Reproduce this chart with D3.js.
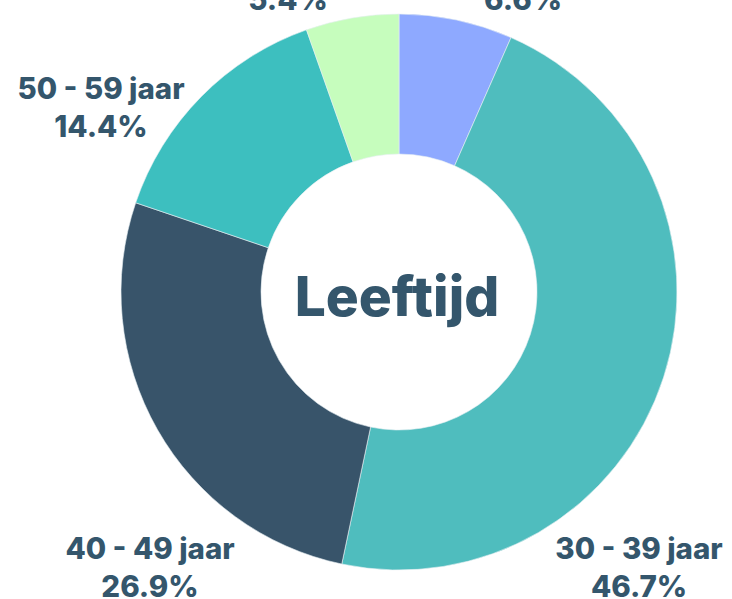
<!DOCTYPE html>
<html>
<head>
<meta charset="utf-8">
<script src="https://cdn.jsdelivr.net/npm/d3@7"></script>
<style>
  html, body { margin: 0; padding: 0; background: #fff; overflow: hidden; }
  text { font-family: Inter, "Open Sans", sans-serif; font-weight: 800; fill: #34566c; }
</style>
</head>
<body>
<div id="chart-container"></div>
<script>
// slices, clockwise from 12 o'clock
const categories = ['20 - 29 jaar', '30 - 39 jaar', '40 - 49 jaar', '50 - 59 jaar', '60+ jaar'];
const percentages = [6.6, 46.7, 26.9, 14.4, 5.4];
const colors = ['#8ea9ff', '#4fbdbe', '#38546a', '#3dbfbf', '#c6fdbd'];
const centerLabel = 'Leeftijd';

const width = 732;
const height = 599;
const cx = 399, cy = 292;
const outerR = 278, innerR = 138;

// where each label sits, relative to the centre (baseline of the % line)
const labelOffsets = [[124, -282], [240, 305], [-249, 305], [-298, -155], [-111, -282]];

const svg = d3.select("#chart-container")
  .append("svg")
    .attr("width", width)
    .attr("height", height);

const g = svg.append("g")
    .attr("transform", "translate(" + cx + "," + cy + ")");

const pie = d3.pie().sort(null).value(d => d.value);
const arc = d3.arc().innerRadius(innerR).outerRadius(outerR);

const data = categories.map((c, i) => ({ name: c, value: percentages[i], color: colors[i], off: labelOffsets[i] }));

g.selectAll(".slice")
  .data(pie(data))
  .enter()
  .append("path")
    .attr("class", "slice")
    .attr("d", arc)
    .attr("fill", d => d.data.color)
    .attr("stroke", "#e8f0f4")
    .attr("stroke-width", 0.6);

// labels
const labels = g.selectAll(".label")
  .data(data)
  .enter()
  .append("text")
    .attr("class", "label")
    .attr("text-anchor", "middle")
    .attr("font-size", 29.5);

labels.append("tspan")
    .attr("x", d => d.off[0])
    .attr("y", d => d.off[1] - 38)
    .text(d => d.name);

labels.append("tspan")
    .attr("x", d => d.off[0])
    .attr("y", d => d.off[1])
    .text(d => d.value.toFixed(1) + "%");

// centre title
g.append("text")
    .attr("text-anchor", "middle")
    .attr("x", -2)
    .attr("y", 24)
    .attr("font-size", 55)
    .text(centerLabel);
</script>
</body>
</html>
